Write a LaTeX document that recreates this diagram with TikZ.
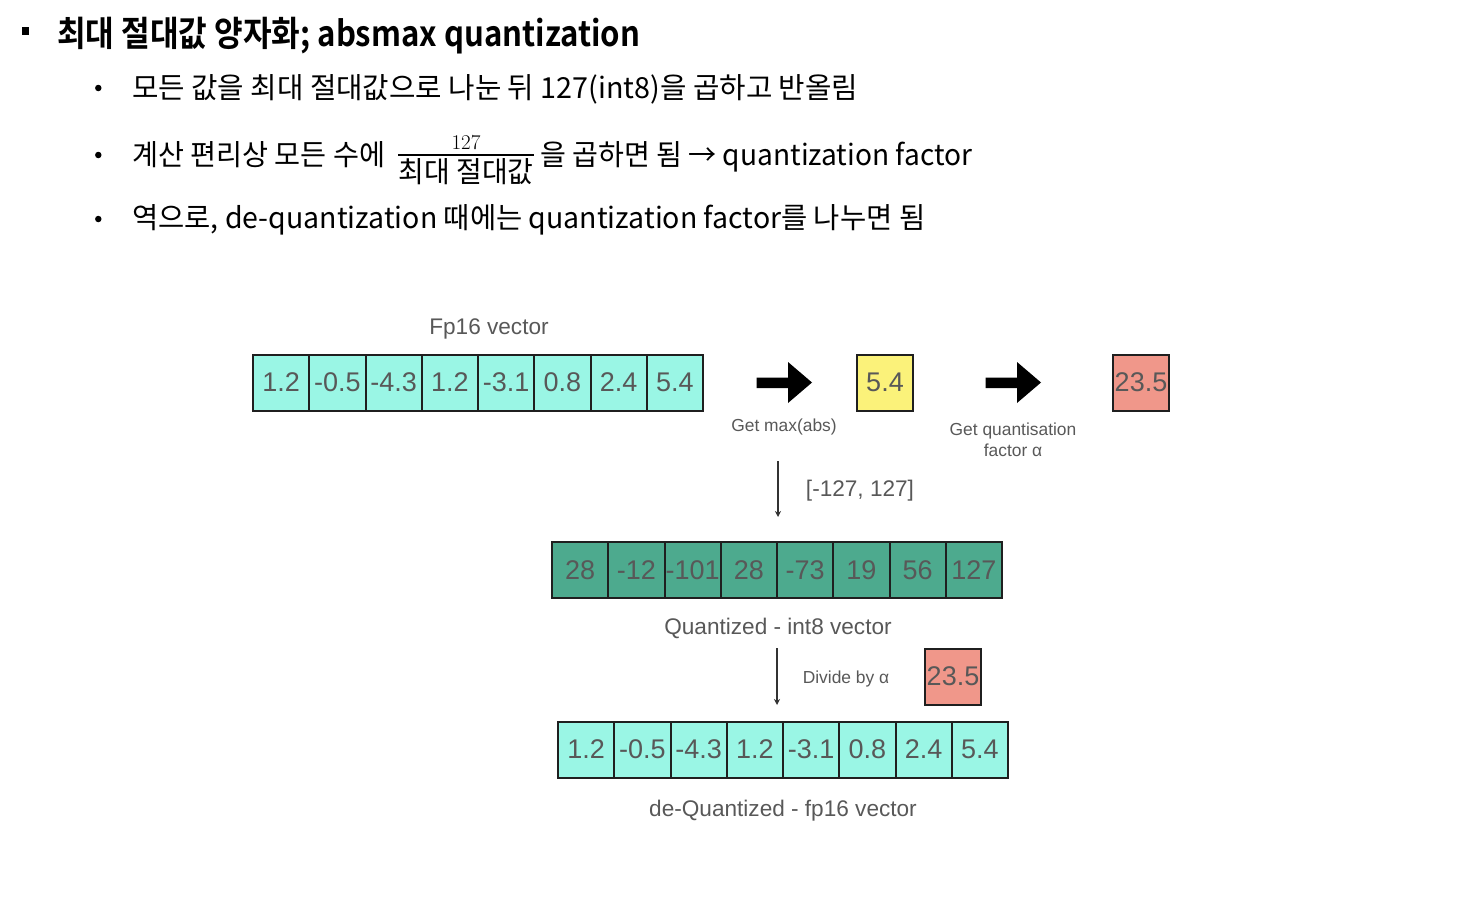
\documentclass[tikz,border=0pt]{standalone}
\usepackage{fontspec}
\usepackage{graphicx}
\usetikzlibrary{arrows.meta}
\newfontfamily\kr{Noto Sans CJK KR}
\newfontfamily\krb{Noto Sans CJK KR Bold}
\newfontfamily\hv{Liberation Sans}
\setmainfont{Latin Modern Roman}
\definecolor{aqua}{HTML}{9AF6E5}
\definecolor{teal}{HTML}{4DAA8E}
\definecolor{ylw}{HTML}{FBF27A}
\definecolor{salmon}{HTML}{F0978A}
\definecolor{txtgray}{HTML}{585858}
\newcommand\fitw[2]{\resizebox{#1pt}{\height}{#2}}
\tikzset{
  cell/.style={rectangle, draw=black!88, line width=2pt, minimum width=56.25pt,
    minimum height=56pt, inner sep=0pt, text=txtgray, font=\hv\fontsize{27}{27}\selectfont},
  aquacell/.style={cell, fill=aqua},
  tealcell/.style={cell, fill=teal},
  lbl/.style={text=txtgray, font=\hv\fontsize{22.6}{26}\selectfont, inner sep=0pt},
  smalllbl/.style={text=txtgray, font=\hv\fontsize{17.4}{21.5}\selectfont, inner sep=0pt, align=center},
  body/.style={anchor=base west, inner sep=0pt, font=\kr\fontsize{29}{29}\selectfont},
  bigarrow/.style={fill=black},
  thinarrow/.style={draw=black!80, line width=1.3pt, -{Stealth[length=6pt,width=6pt]}},
  dot/.style={circle, fill=black, inner sep=0pt, minimum size=6.5pt}
}
\begin{document}
\begin{tikzpicture}[x=1pt,y=-1pt]
\useasboundingbox (0,0) rectangle (1477,905);
% title
\node[rectangle, fill=black, inner sep=0pt, minimum size=7.5pt] (sq) at (25.5,31) {};
\node[anchor=base west, inner sep=0pt, font=\krb\fontsize{35}{35}\selectfont] (title) at (57,46)
  {\fitw{583}{최대 절대값 양자화; absmax quantization}};
% bullets
\node[dot] (b1) at (98.3,88) {};
\node[dot] (b2) at (98.3,155) {};
\node[dot] (b3) at (98.3,219) {};
\node[body] (l1) at (132,98) {\fitw{726}{모든 값을 최대 절대값으로 나눈 뒤 127(int8)을 곱하고 반올림}};
\node[body] (l2a) at (132,165) {\fitw{253}{계산 편리상 모든 수에}};
\node[anchor=base, inner sep=0pt, font=\rmfamily\fontsize{21}{21}\selectfont] (num) at (466,149) {127};
\coordinate (fl) at (398,155);
\coordinate (fr) at (534,155);
\draw[line width=1.1pt] (fl) -- (fr);
\node[anchor=base, inner sep=0pt, font=\kr\fontsize{29}{29}\selectfont] (den) at (466,182) {\fitw{135}{최대 절대값}};
\node[body] (l2b) at (540,165) {\fitw{432}{을 곱하면 됨 → quantization factor}};
\node[body] (l3) at (132,228) {\fitw{793}{역으로, de-quantization 때에는 quantization factor를 나누면 됨}};
% row 1
\node[lbl] (fp16lbl) at (489,329) {Fp16 vector};
\foreach \v [count=\i from 0] in {1.2,-0.5,-4.3,1.2,-3.1,0.8,2.4,5.4}
  \node[aquacell] (r1c\i) at ({253+28.125+\i*56.25},382.5) {\v};
% big arrow 1
\fill[bigarrow] (756.5,377.5) -- (788,377.5) -- (788,362) -- (812,382.5) -- (788,403) -- (788,388) -- (756.5,388) -- cycle;
\node[smalllbl] (maxlbl) at (784,427) {Get max(abs)};
\node[cell, fill=ylw] (maxbox) at (885,382.5) {5.4};
% big arrow 2
\fill[bigarrow] (985.5,377.5) -- (1017,377.5) -- (1017,362) -- (1041,382.5) -- (1017,403) -- (1017,388) -- (985.5,388) -- cycle;
\node[smalllbl] (qflbl) at (1013,440) {Get quantisation\\factor α};
\node[cell, fill=salmon] (alpha1) at (1141,382.5) {23.5};
% thin arrow 1
\coordinate (t1s) at (778,461);
\coordinate (t1e) at (778,517);
\draw[thinarrow] (t1s) -- (t1e);
\node[lbl] (rangelbl) at (860,491) {[-127, 127]};
% row 2
\foreach \v [count=\i from 0] in {28,-12,-101,28,-73,19,56,127}
  \node[tealcell] (r2c\i) at ({552+28.125+\i*56.25},570) {\v};
\node[lbl] (int8lbl) at (778,628) {Quantized - int8 vector};
% thin arrow 2
\coordinate (t2s) at (777,648);
\coordinate (t2e) at (777,705);
\draw[thinarrow] (t2s) -- (t2e);
\node[smalllbl] (divlbl) at (846,679) {Divide by α};
\node[cell, fill=salmon] (alpha2) at (953,676.5) {23.5};
% row 3
\foreach \v [count=\i from 0] in {1.2,-0.5,-4.3,1.2,-3.1,0.8,2.4,5.4}
  \node[aquacell] (r3c\i) at ({558+28.125+\i*56.25},749.5) {\v};
\node[lbl] (deqlbl) at (783,811) {de-Quantized - fp16 vector};
\end{tikzpicture}
\end{document}
